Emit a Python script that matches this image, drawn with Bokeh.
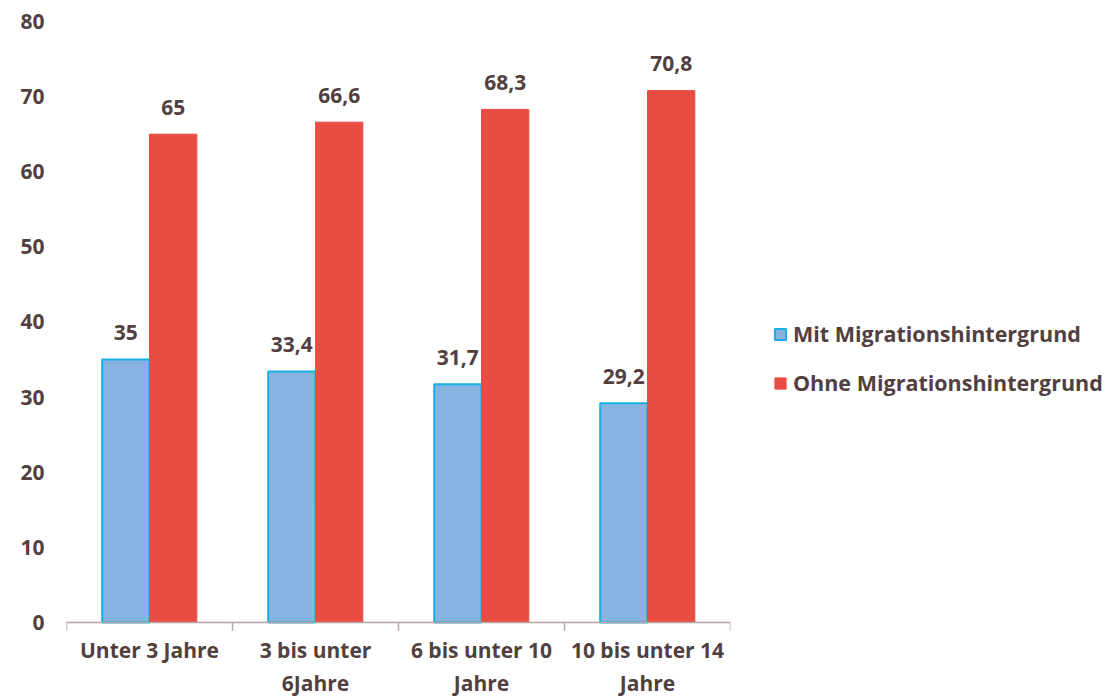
from bokeh.plotting import figure
from bokeh.models import (ColumnDataSource, FactorRange, Range1d, FixedTicker, Legend,
                          LegendItem, LabelSet)
from bokeh.transform import dodge
from bokeh.core.properties import value
from bokeh.embed import file_html
from bokeh.resources import INLINE

categories = ["Unter 3 Jahre", "3 bis unter\n6Jahre", "6 bis unter 10\nJahre", "10 bis unter 14\nJahre"]
mit = [35.0, 33.4, 31.7, 29.2]
ohne = [65.0, 66.6, 68.3, 70.8]
series_names = ["Mit Migrationshintergrund", "Ohne Migrationshintergrund"]
y_ticks = [0, 10, 20, 30, 40, 50, 60, 70, 80]

FONT = "Open Sans"
FS = "21px"
STYLE = "bold"
TXT = "#523f3f"
BLUE = "#86b3df"
BLUE_LINE = "#1aaee6"
RED = "#e84c43"

def fmt(v):
    return ("%g" % v).replace(".", ",")

src = ColumnDataSource(dict(cat=categories, mit=mit, ohne=ohne,
                            mit_lbl=[fmt(v) for v in mit],
                            ohne_lbl=[fmt(v) for v in ohne]))

p = figure(x_range=FactorRange(factors=categories, range_padding=0),
           y_range=Range1d(-1.2, 80),
           frame_width=664, frame_height=610, output_backend="svg", toolbar_location=None,
           min_border_left=66, min_border_right=0, min_border_top=21, min_border_bottom=50)

p.outline_line_color = None
p.grid.grid_line_color = None
p.background_fill_color = "white"

w = 0.285
r_mit = p.vbar(x=dodge("cat", -w / 2, range=p.x_range), top="mit", bottom=0, width=w,
               source=src, fill_color=BLUE, line_color=BLUE_LINE, line_width=2)
r_ohne = p.vbar(x=dodge("cat", w / 2, range=p.x_range), top="ohne", bottom=0, width=w,
                source=src, fill_color=RED, line_color=RED, line_width=1)

# value labels
for col, lbl, off in (("mit", "mit_lbl", -w / 2), ("ohne", "ohne_lbl", w / 2)):
    ls = LabelSet(x=dodge("cat", off, range=p.x_range), y=col, text=lbl, source=src,
                  text_align="center", text_baseline="middle", y_offset=27,
                  text_font=value(FONT), text_font_size=FS, text_font_style=STYLE,
                  text_color=TXT)
    p.add_layout(ls)

# baseline and category boundary ticks
AX = "#b8a4a4"
p.segment(x0=[(categories[0], -0.5)], y0=[0], x1=[(categories[-1], 0.5)], y1=[0],
          line_color=AX, line_width=1.5)
bx = [(c, -0.5) for c in categories] + [(categories[-1], 0.5)]
p.segment(x0=bx, y0=[0] * len(bx), x1=bx, y1=[-1.1] * len(bx), line_color=AX, line_width=1.5)

# axes
p.xaxis.axis_line_color = None
p.xaxis.major_tick_line_color = None
p.xaxis.major_tick_out = 0
p.xaxis.major_tick_in = 0
p.xaxis.minor_tick_line_color = None
p.xaxis.major_label_standoff = 4
p.xaxis.major_label_text_font = FONT
p.xaxis.major_label_text_font_size = FS
p.xaxis.major_label_text_font_style = STYLE
p.xaxis.major_label_text_color = TXT

p.yaxis.ticker = FixedTicker(ticks=y_ticks)
p.yaxis.axis_line_color = None
p.yaxis.major_tick_line_color = None
p.yaxis.major_tick_out = 0
p.yaxis.major_tick_in = 0
p.yaxis.minor_tick_line_color = None
p.yaxis.major_label_standoff = 22
p.yaxis.major_label_text_font = FONT
p.yaxis.major_label_text_font_size = FS
p.yaxis.major_label_text_font_style = STYLE
p.yaxis.major_label_text_color = TXT

legend = Legend(items=[LegendItem(label=series_names[0], renderers=[r_mit]),
                       LegendItem(label=series_names[1], renderers=[r_ohne])],
                location=(43, 234), orientation="vertical",
                glyph_width=14, glyph_height=14, label_height=24, spacing=20,
                padding=0, margin=0, border_line_color=None, background_fill_alpha=0,
                label_text_font=FONT, label_text_font_size="21.5px",
                label_text_font_style=STYLE, label_text_color=TXT,
                label_standoff=6)
p.add_layout(legend, "right")

open("out.html", "w").write(file_html(p, INLINE))
